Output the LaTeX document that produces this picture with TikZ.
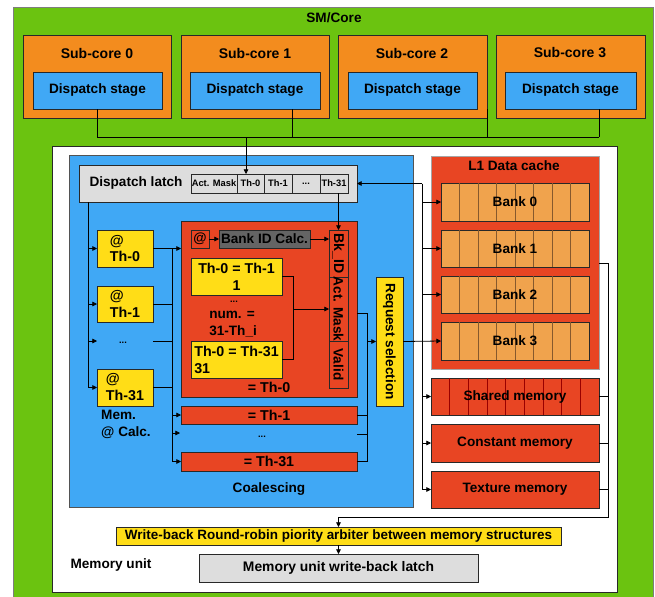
\documentclass[tikz,border=0pt]{standalone}
\usepackage{fontspec}
\setmainfont{Liberation Sans}
\usetikzlibrary{arrows.meta,calc}
\definecolor{smgreen}{RGB}{107,195,16}
\definecolor{subor}{RGB}{243,140,30}
\definecolor{dblue}{RGB}{64,168,245}
\definecolor{lgray}{RGB}{221,221,221}
\definecolor{yel}{RGB}{255,221,23}
\definecolor{rred}{RGB}{232,69,35}
\definecolor{bankor}{RGB}{240,163,77}
\definecolor{dgray}{RGB}{100,100,100}
\definecolor{edge}{RGB}{40,40,40}
\newcommand\mybox[7][]{\node[inner sep=0pt,outer sep=0pt,anchor=north west,minimum width={(#5-#3)*0.75pt},minimum height={(#6-#4)*0.75pt},draw=edge,line width=0.6pt,font=\fontsize{10.2}{12.75}\selectfont\bfseries,#1] (#2) at (#3,#4) {#7};}
\begin{document}
\begin{tikzpicture}[x=0.75pt,y=-0.75pt,
  conn/.style={draw=black,line width=0.6pt},
  arr/.style={conn,-{Triangle[length=3.5pt,width=3.5pt]}},
  lbl/.style={font=\fontsize{10.2}{12.75}\selectfont\bfseries,inner sep=0pt},
  big/.style={font=\fontsize{10.7}{12.75}\selectfont\bfseries},
  cell/.style={font=\fontsize{7}{8}\selectfont\bfseries,fill=lgray},
  bankdiv/.style={draw=brown!70!black,line width=0.4pt},
  shdiv/.style={draw=red!60!black,line width=0.4pt}]
\useasboundingbox (0,0) rectangle (655,596);
\begin{scope}
\clip (0,0) rectangle (655,596);
\mybox[fill=smgreen,draw=edge!60]{sm}{13}{7}{653}{620}{}
\end{scope}
\node[lbl] (smlabel) at (334,18) {SM/Core};
% sub-cores
\mybox[fill=subor]{sc0}{23}{35}{171}{118}{}
\mybox[fill=subor]{sc1}{181}{35}{329}{118}{}
\mybox[fill=subor]{sc2}{338}{35}{487}{118}{}
\mybox[fill=subor]{sc3}{496}{35}{645}{118}{}
\node[lbl,font=\fontsize{10.5}{12}\selectfont\bfseries] (sc0l) at (97,53) {Sub-core 0};
\node[lbl,font=\fontsize{10.5}{12}\selectfont\bfseries] (sc1l) at (255,53) {Sub-core 1};
\node[lbl,font=\fontsize{10.5}{12}\selectfont\bfseries] (sc2l) at (412,53) {Sub-core 2};
\node[lbl,font=\fontsize{10.5}{12}\selectfont\bfseries] (sc3l) at (570,53) {Sub-core 3};
\mybox[fill=dblue]{ds0}{33}{72}{162}{109}{Dispatch stage}
\mybox[fill=dblue]{ds1}{190}{72}{320}{109}{Dispatch stage}
\mybox[fill=dblue]{ds2}{348}{72}{477}{109}{Dispatch stage}
\mybox[fill=dblue]{ds3}{505}{72}{636}{109}{Dispatch stage}
% memory unit
\mybox[fill=white]{mu}{52}{146}{617}{592}{}
\mybox[fill=dblue,draw=edge!80]{coal}{69}{155}{413}{507}{}
% sub-core bus
\coordinate (j0) at (246,137);
\coordinate (j1) at (292,137);
\coordinate (j2) at (487,137);
\coordinate (j3) at (599,137);
\draw[conn] (ds0.south) |- (j3);
\draw[conn] (j1 |- ds1.south) -- (j1);
\draw[conn] (j2 |- ds2.south) -- (j2);
\draw[conn] (j3 |- ds3.south) -- (j3);
% dispatch latch
\mybox[fill=lgray]{latch}{79}{165}{357}{202}{}
\node[lbl] (latchl) at (136,183) {Dispatch latch};
\mybox[cell]{cam}{191}{174}{237}{193}{Act. Mask}
\mybox[cell]{c0}{237}{174}{264}{193}{Th-0}
\mybox[cell]{c1}{264}{174}{292}{193}{Th-1}
\mybox[cell]{cd}{292}{174}{320}{193}{...}
\mybox[cell]{c31}{320}{174}{348}{193}{Th-31}
\draw[arr] (j0) -- (j0 |- c0.north);
% address calc
\mybox[fill=yel,align=left,big]{a0}{97}{230}{153}{267}{@\\Th-0}
\mybox[fill=yel,align=left,big]{a1}{97}{286}{153}{322}{@\\Th-1}
\mybox[fill=yel,align=left,big]{a31}{97}{369}{153}{406}{@\\Th-31}
\node[lbl,font=\fontsize{7}{8}\selectfont\bfseries] (adots) at (123,343) {...};
\coordinate (adin) at (97,341);
\coordinate (adout) at (153,341);
\node[lbl,align=left] (memcalc) at (126,424) {Mem.\\@ Calc.};
\coordinate (lb) at (88,202);
\draw[arr] (lb) |- (a31.west);
\draw[arr] (lb |- a0.west) -- (a0.west);
\draw[arr] (lb |- a1.west) -- (a1.west);
\draw[arr] (lb |- adin) -- (adin);
% coalescing blocks
\mybox[fill=rred]{th0}{181}{221}{357}{397}{}
\mybox[fill=rred]{atb}{191}{230}{209}{248}{@}
\mybox[fill=dgray]{bid}{219}{230}{310}{248}{Bank ID Calc.}
\mybox[fill=rred]{bk}{329}{230}{348}{277}{}
\mybox[fill=rred]{am}{329}{277}{348}{341}{}
\mybox[fill=rred]{vl}{329}{341}{348}{388}{}
\node[lbl,rotate=-90,font=\fontsize{10.6}{12}\selectfont\bfseries] (bkl) at (bk.center) {Bk\_ID};
\node[lbl,rotate=-90] (aml) at (am.center) {Act. Mask};
\node[lbl,rotate=-90] (vll) at (vl.center) {Valid};
\mybox[fill=yel,align=center,big]{y1}{191}{258}{282}{295}{Th-0 = Th-1\\1}
\node[lbl,font=\fontsize{7}{8}\selectfont\bfseries] (idots) at (234,302) {...};
\node[lbl,anchor=west] (numl) at (209,315) {num. =};
\node[lbl,anchor=west] (thil) at (209,331) {31-Th\_i};
\mybox[fill=yel,align=left,big]{y31}{191}{341}{282}{378}{Th-0 = Th-31\\31}
\node[lbl,big] (eq0) at (269,387) {= Th-0};
\draw[arr] (atb.east) -- (bid.west);
\draw[arr] (bid.east) -- (bid.east -| bk.west);
\draw[arr] (bk.north |- c31.south) -- (bk.north);
\coordinate (ib) at (293,276);
\draw[conn] (y1.east) -- (y1.east -| ib) -- (ib |- y31.east) -- (y31.east);
\draw[arr] (ib |- am.west) -- (am.west);
\mybox[fill=rred,big]{r1}{181}{406}{357}{424}{= Th-1}
\mybox[fill=rred,big]{r31}{181}{452}{357}{471}{= Th-31}
\node[lbl,font=\fontsize{7}{8}\selectfont\bfseries] (rdots) at (262,437) {...};
\coordinate (rdin) at (180,433);
\coordinate (rdout) at (357,434);
\node[lbl] (coall) at (269,489) {Coalescing};
% bus to coalescing
\coordinate (mb) at (172,248);
\draw[arr] (a0.east) -- (a0.east -| th0.west);
\draw[conn] (a1.east) -- (a1.east -| mb);
\draw[conn] (adout) -- (adout -| mb);
\draw[conn] (a31.east) -- (a31.east -| mb);
\draw[conn] (mb |- a0.east) -- (mb |- r31.west);
\draw[arr] (mb |- r1.west) -- (r1.west);
\draw[arr] (mb |- rdin) -- (rdin);
\draw[arr] (mb |- r31.west) -- (r31.west);
% request selection
\mybox[fill=yel]{rs}{376}{277}{403}{406}{}
\node[lbl,rotate=-90] (rsl) at (rs.center) {Request selection};
\coordinate (rb) at (367,313);
\draw[conn] (th0.east |- rb) -- (rb) -- (rb |- r31.east) -- (r31.east);
\draw[conn] (r1.east) -- (r1.east -| rb);
\draw[conn] (rdout) -- (rdout -| rb);
\draw[arr] (rb |- rs.west) -- (rs.west);
% L1 data cache
\mybox[fill=rred,draw=gray!70]{l1}{431}{156}{599}{369}{}
\node[lbl] (l1l) at (514,166) {L1 Data cache};
\foreach \b/\ya/\yb/\t in {b0/183/221/Bank 0,b1/230/267/Bank 1,b2/276/313/Bank 2,b3/322/360/Bank 3}{
  \mybox[fill=bankor]{\b}{441}{\ya}{589}{\yb}{}
  \foreach \i in {1,...,7}{\draw[bankdiv] (441+\i*18.5,\ya) -- (441+\i*18.5,\yb);}
  \node[lbl] (\b l) at (\b.center) {\t};
}
\mybox[fill=rred]{sh}{431}{378}{599}{415}{}
\foreach \i in {1,...,8}{\draw[shdiv] (431+\i*18.67,378) -- (431+\i*18.67,415);}
\node[lbl] (shl) at (sh.center) {Shared memory};
\mybox[fill=rred]{cm}{431}{424}{599}{462}{Constant memory}
\mybox[fill=rred]{tm}{431}{471}{599}{508}{Texture memory}
% memory bus
\coordinate (mbus) at (422,183);
\draw[arr] (mbus |- latch.east) -- (latch.east);
\draw[conn] (mbus |- latch.east) -- (mbus |- tm.west);
\draw[arr] (mbus |- b0.west) -- (b0.west);
\draw[arr] (mbus |- b1.west) -- (b1.west);
\draw[arr] (mbus |- b2.west) -- (b2.west);
\draw[arr] (rs.east) -- (b3.west);
\draw[arr] (mbus |- sh.west) -- (sh.west);
\draw[arr] (mbus |- cm.west) -- (cm.west);
\draw[arr] (mbus |- tm.west) -- (tm.west);
% write-back
\mybox[fill=yel,font=\fontsize{10.1}{11}\selectfont\bfseries]{arb}{116}{527}{561}{545}{Write-back Round-robin piority arbiter between memory structures}
\mybox[fill=lgray,font=\fontsize{10.4}{12}\selectfont\bfseries]{wbl}{199}{554}{478}{582}{Memory unit write-back latch}
\node[lbl] (mul) at (111,565) {Memory unit};
\coordinate (wb) at (608,263);
\coordinate (wbot) at (608,517);
\draw[conn] (sh.east) -- (sh.east -| wb);
\draw[conn] (cm.east) -- (cm.east -| wb);
\draw[conn] (tm.east) -- (tm.east -| wb);
\draw[arr] (l1.east |- wb) -| (wbot) -| (arb.north);
\draw[arr] (arb.south) -- (wbl.north);
\end{tikzpicture}
\end{document}
